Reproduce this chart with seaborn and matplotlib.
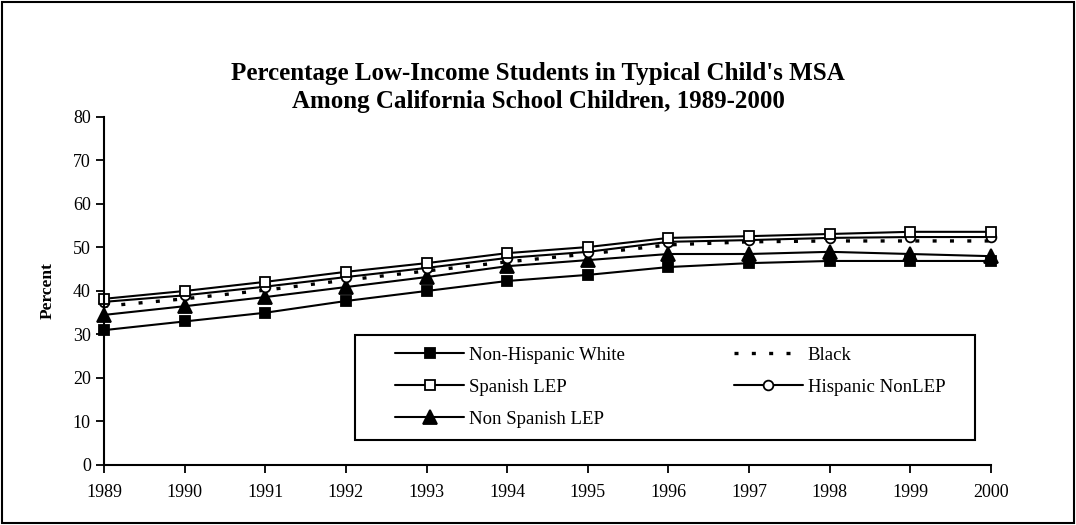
import matplotlib
matplotlib.use("Agg")
import matplotlib.pyplot as plt
import seaborn as sns
import pandas as pd
from matplotlib.patches import Rectangle

years = [1989, 1990, 1991, 1992, 1993, 1994, 1995, 1996, 1997, 1998, 1999, 2000]
non_hispanic_white = [31.0, 33.0, 35.0, 37.7, 40.0, 42.3, 43.7, 45.5, 46.4, 46.9, 46.9, 46.9]
black = [36.5, 38.2, 40.2, 42.5, 44.6, 46.7, 48.5, 50.6, 51.3, 51.5, 51.5, 51.5]
spanish_lep = [38.2, 40.0, 42.1, 44.4, 46.4, 48.7, 50.1, 52.2, 52.6, 53.1, 53.6, 53.6]
hispanic_nonlep = [37.5, 39.0, 41.0, 43.2, 45.3, 47.6, 49.0, 51.3, 51.7, 52.2, 52.4, 52.4]
non_spanish_lep = [34.5, 36.5, 38.6, 40.9, 43.2, 45.7, 47.1, 48.5, 48.5, 49.0, 48.5, 48.0]

series = {
    "Non-Hispanic White": non_hispanic_white,
    "Black": black,
    "Spanish LEP": spanish_lep,
    "Hispanic NonLEP": hispanic_nonlep,
    "Non Spanish LEP": non_spanish_lep,
}
rows = []
for name, vals in series.items():
    for y, v in zip(years, vals):
        rows.append({"Year": y, "Percent": v, "Group": name})
df = pd.DataFrame(rows)

sns.set_theme(style="white")
plt.rcParams["font.family"] = ["Liberation Serif", "DejaVu Serif"]
plt.rcParams["text.color"] = "black"
plt.rcParams["axes.labelcolor"] = "black"

fig = plt.figure(figsize=(10.76, 5.25), dpi=100)
ax = fig.add_axes([0.0967, 0.1143, 0.8243, 0.6629])

styles = {
    "Non-Hispanic White": dict(marker="s", mfc="black", ls="-", ms=7.5),
    "Spanish LEP": dict(marker="s", mfc="white", ls="-", ms=7.5),
    "Non Spanish LEP": dict(marker="^", mfc="black", ls="-", ms=9.5),
    "Black": dict(marker=None, mfc="black", ls=(0, (1.2, 4)), ms=0),
    "Hispanic NonLEP": dict(marker="o", mfc="white", ls="-", ms=7),
}
order = ["Non-Hispanic White", "Spanish LEP", "Non Spanish LEP", "Black", "Hispanic NonLEP"]
draw_order = ["Non-Hispanic White", "Non Spanish LEP", "Black", "Hispanic NonLEP", "Spanish LEP"]
handles = {}
for name in draw_order:
    st = styles[name]
    sub = df[df["Group"] == name]
    lw = 2.4 if name == "Black" else 1.5
    sns.lineplot(data=sub, x="Year", y="Percent", ax=ax, color="black",
                 linestyle=st["ls"], linewidth=lw, marker=st["marker"],
                 markersize=st["ms"], markerfacecolor=st["mfc"],
                 markeredgecolor="black", markeredgewidth=1.3, label=name)
    handles[name] = ax.lines[-1]

ax.set_xlim(1989, 2000)
ax.set_ylim(0, 80)
ax.set_xticks(years)
ax.set_xticklabels([str(y) for y in years])
ax.set_yticks(range(0, 81, 10))
ax.set_xlabel("")
ax.set_ylabel("Percent", fontsize=12.5, fontweight="bold", labelpad=12, color="black")
for s in ["top", "right"]:
    ax.spines[s].set_visible(False)
for s in ["left", "bottom"]:
    ax.spines[s].set_color("black")
    ax.spines[s].set_linewidth(1.5)
ax.tick_params(axis="both", direction="out", length=6, width=1.3, colors="black",
               labelsize=13, left=True, bottom=True)
ax.tick_params(axis="x", pad=8)
for ln in ax.lines:
    ln.set_clip_on(False)

# legend box
ax.add_patch(Rectangle((0.283, 0.0718), 0.699, 0.302, transform=ax.transAxes,
                       fill=True, facecolor="white", edgecolor="black",
                       linewidth=1.5, zorder=4, clip_on=False))
leg = ax.legend([handles[n] for n in order], order, loc="upper left",
                bbox_to_anchor=(0.328, 0.3395), ncol=2, frameon=False,
                fontsize=13.5, handlelength=3.7, borderpad=0, labelspacing=0.79,
                handletextpad=0.25, columnspacing=5.8, borderaxespad=0)
leg.set_zorder(5)
for t in leg.get_texts():
    t.set_color("black")

fig.suptitle("Percentage Low-Income Students in Typical Child's MSA\nAmong California School Children, 1989-2000",
             fontsize=18, fontweight="bold", y=0.882, linespacing=1.3, color="black")

fig.patches.append(Rectangle((0.002, 0.003), 0.996, 0.994, transform=fig.transFigure,
                             fill=False, edgecolor="black", linewidth=1.5))

fig.savefig("out.png", dpi=100)
